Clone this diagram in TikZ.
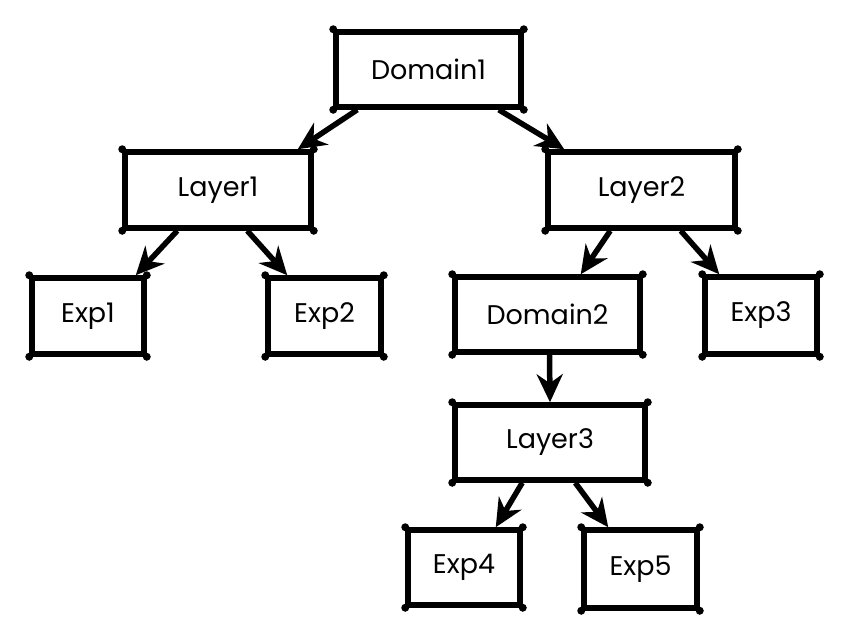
\documentclass[tikz,border=0pt]{standalone}
\usepackage{fontspec}
\setmainfont{Poppins}
\usetikzlibrary{arrows.meta,calc}
\tikzset{
  box/.style={draw, line width=5.5pt, inner sep=0pt, font=\fontsize{27}{31}\selectfont, text=black},
  arr/.style={line width=5.5pt, -{Stealth[length=28pt,width=26pt,inset=9pt]}},
  dot/.style={fill=black}
}
\newcommand{\corners}[1]{%
  \fill[dot] (#1.north west) circle (4pt);
  \fill[dot] (#1.north east) circle (4pt);
  \fill[dot] (#1.south west) circle (4pt);
  \fill[dot] (#1.south east) circle (4pt);}
\begin{document}
\begin{tikzpicture}[x=1pt,y=-1pt]
\useasboundingbox[fill=white] (0,0) rectangle (850,640);
\node[box, minimum width=185pt, minimum height=75pt] (d1) at (428.5,69.5) {Domain1};
\node[box, minimum width=186pt, minimum height=76pt] (l1) at (218,190) {Layer1};
\node[box, minimum width=187pt, minimum height=76pt] (l2) at (641.5,190) {Layer2};
\node[box, minimum width=112pt, minimum height=76pt] (e1) at (88,316) {Exp1};
\node[box, minimum width=113pt, minimum height=76pt] (e2) at (324.5,316) {Exp2};
\node[box, minimum width=185pt, minimum height=75pt] (d2) at (547.5,314.5) {Domain2};
\node[box, minimum width=112pt, minimum height=77pt] (e3) at (761,315.5) {Exp3};
\node[box, minimum width=190pt, minimum height=75pt] (l3) at (550,442.5) {Layer3};
\node[box, minimum width=112pt, minimum height=75pt] (e4) at (464,567.5) {Exp4};
\node[box, minimum width=113pt, minimum height=78pt] (e5) at (640.5,569) {Exp5};
\corners{d1}\corners{l1}\corners{l2}\corners{e1}\corners{e2}
\corners{d2}\corners{e3}\corners{l3}\corners{e4}\corners{e5}
\draw[arr] ([xshift=24pt]d1.south west) -- ([xshift=-16pt]l1.north east);
\draw[arr] ([xshift=-25pt]d1.south east) -- ([xshift=19pt]l2.north west);
\draw[arr] ([xshift=55pt]l1.south west) -- ([xshift=-11pt]e1.north east);
\draw[arr] ([xshift=125pt]l1.south west) -- ([xshift=22pt]e2.north west);
\draw[arr] ([xshift=65pt]l2.south west) -- ([xshift=-62pt]d2.north east);
\draw[arr] ([xshift=-57pt]l2.south east) -- ([xshift=17pt]e3.north west);
\draw[arr] ([xshift=2pt]d2.south) -- (l3.north);
\draw[arr] ([xshift=70pt]l3.south west) -- ([xshift=-27pt]e4.north east);
\draw[arr] ([xshift=123pt]l3.south west) -- ([xshift=27pt]e5.north west);
\end{tikzpicture}
\end{document}
